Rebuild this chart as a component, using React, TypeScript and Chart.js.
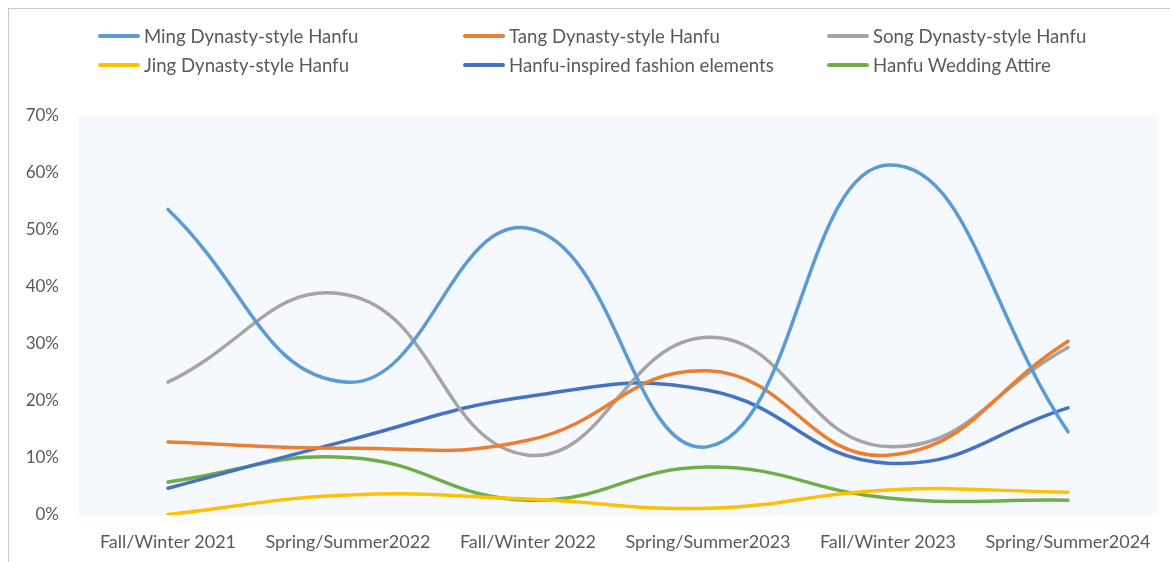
import React, { useEffect, useRef } from "react";
import { Chart, registerables } from "chart.js";

Chart.register(...registerables);

const categories = [
  "Fall/Winter 2021",
  "Spring/Summer2022",
  "Fall/Winter 2022",
  "Spring/Summer2023",
  "Fall/Winter 2023",
  "Spring/Summer2024",
];
const seriesNames = [
  "Ming Dynasty-style Hanfu",
  "Tang Dynasty-style Hanfu",
  "Song Dynasty-style Hanfu",
  "Jing Dynasty-style Hanfu",
  "Hanfu-inspired fashion elements",
  "Hanfu Wedding Attire",
];
const ming = [53.6, 23.3, 50.3, 12.0, 61.4, 14.6];
const tang = [12.8, 11.7, 13.1, 25.3, 10.5, 30.5];
const song = [23.3, 38.6, 10.5, 31.2, 12.0, 29.4];
const jing = [0.1, 3.5, 2.8, 1.2, 4.4, 4.0];
const inspired = [4.7, 13.1, 20.8, 21.9, 9.1, 18.8];
const wedding = [5.8, 10.1, 2.6, 8.4, 3.0, 2.6];
const seriesValues = [ming, tang, song, jing, inspired, wedding];
const seriesColors = ["#5B9BD5", "#ED7D31", "#A5A5A5", "#FFC000", "#4472C4", "#70AD47"];
const yMin = 0;
const yMax = 70;
const yStep = 10;

const FONT = "Lato, 'Open Sans', sans-serif";
const TEXT = "#595959";

const plotBg = {
  id: "plotBg",
  beforeDraw(chart: any) {
    const { ctx, chartArea } = chart;
    ctx.save();
    ctx.fillStyle = "#F5F9FD";
    ctx.fillRect(chartArea.left, chartArea.top, chartArea.right - chartArea.left, chartArea.bottom - chartArea.top);
    ctx.restore();
  },
};

const legendPos = [
  { x: 98, y: 36 },
  { x: 463, y: 36 },
  { x: 827, y: 36 },
  { x: 98, y: 65 },
  { x: 463, y: 65 },
  { x: 827, y: 65 },
];

export default function App() {
  const ref = useRef<HTMLCanvasElement>(null);
  useEffect(() => {
    const chart = new Chart(ref.current!, {
      type: "line",
      data: {
        labels: categories,
        datasets: seriesNames.map((n, i) => ({
          label: n,
          data: seriesValues[i],
          borderColor: seriesColors[i],
          backgroundColor: seriesColors[i],
          borderWidth: 3.5,
          pointRadius: 0,
          tension: 0.45,
          borderCapStyle: "round" as const,
          fill: false,
        })),
      },
      options: {
        animation: false,
        responsive: false,
        maintainAspectRatio: false,
        layout: { padding: { top: 116, left: 0, right: 12, bottom: 0 } },
        plugins: { legend: { display: false }, tooltip: { enabled: false } },
        scales: {
          x: {
            offset: true,
            grid: { display: false, drawTicks: false },
            border: { display: false },
            ticks: {
              color: TEXT,
              font: { family: FONT, size: 18 },
              padding: 16,
              maxRotation: 0,
              autoSkip: false,
            },
            afterFit: (s: any) => {
              s.height = 47;
            },
          },
          y: {
            min: yMin,
            max: yMax,
            grid: { display: false, drawTicks: false },
            border: { display: false },
            ticks: {
              stepSize: yStep,
              color: TEXT,
              font: { family: FONT, size: 17 },
              padding: 19,
              callback: (v: any) => v + "%",
            },
            afterFit: (s: any) => {
              s.width = 78;
            },
          },
        },
      },
      plugins: [plotBg],
    });
    return () => chart.destroy();
  }, []);

  return (
    <div style={{ position: "absolute", left: 0, top: 0, width: 1170, height: 562, background: "#fff", overflow: "hidden" }}>
      <div
        style={{
          position: "absolute",
          left: 8,
          top: 8,
          width: 1170,
          height: 560,
          borderTop: "1.5px solid #c8c8c8",
          borderLeft: "1.5px solid #c8c8c8",
        }}
      />
      <canvas ref={ref} width={1170} height={562} style={{ position: "absolute", left: 0, top: 0, width: 1170, height: 562 }} />
      {seriesNames.map((n, i) => (
        <div
          key={n}
          style={{
            position: "absolute",
            left: legendPos[i].x,
            top: legendPos[i].y - 12,
            height: 24,
            display: "flex",
            alignItems: "center",
            fontFamily: FONT,
            fontSize: 18.6,
            color: TEXT,
            whiteSpace: "nowrap",
          }}
        >
          <span
            style={{
              display: "inline-block",
              width: 42,
              height: 4,
              borderRadius: 2,
              background: seriesColors[i],
              marginRight: 4,
            }}
          />
          <span>{n}</span>
        </div>
      ))}
    </div>
  );
}
